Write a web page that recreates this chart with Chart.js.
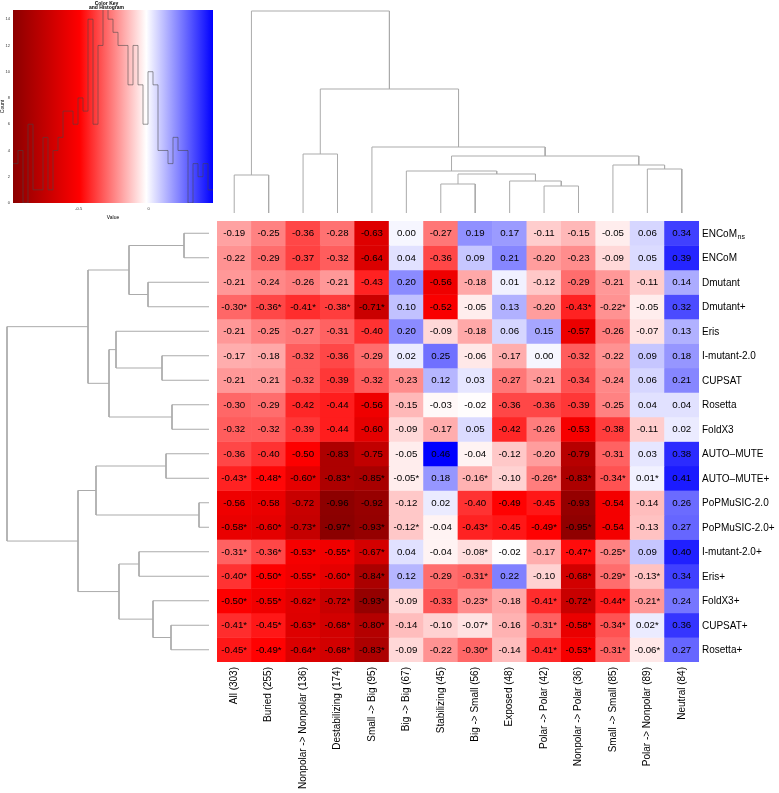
<!DOCTYPE html>
<html>
<head>
<meta charset="utf-8">
<script src="https://cdn.jsdelivr.net/npm/chart.js@4.4.1/dist/chart.umd.min.js"></script>
<style>
  html, body { margin: 0; padding: 0; background: #fff; }
  #wrap { position: relative; width: 779px; height: 793px; overflow: hidden; }
  canvas { position: absolute; }
</style>
</head>
<body>
<div id="wrap">
  <canvas id="keyChart" width="217" height="221" style="left:0;top:0"></canvas>
  <canvas id="colDendro" width="482" height="221" style="left:217px;top:0"></canvas>
  <canvas id="rowDendro" width="217" height="441" style="left:0;top:221px"></canvas>
  <canvas id="heatChart" width="569" height="578" style="left:210px;top:215px"></canvas>
</div>
<script>
const fontFamily = '"Liberation Sans", Arial, Helvetica, sans-serif';

// columns (in dendrogram order)
const colLabels = ['All (303)', 'Buried (255)', 'Nonpolar -> Nonpolar (136)', 'Destabilizing (174)',
  'Small -> Big (95)', 'Big -> Big (67)', 'Stabilizing (45)', 'Big -> Small (56)', 'Exposed (48)',
  'Polar -> Polar (42)', 'Nonpolar -> Polar (36)', 'Small -> Small (85)', 'Polar -> Nonpolar (89)', 'Neutral (84)'];

// rows (in dendrogram order), "_" marks a subscript
const rowLabels = ['ENCoM_ns', 'ENCoM', 'Dmutant', 'Dmutant+', 'Eris', 'I-mutant-2.0', 'CUPSAT', 'Rosetta',
  'FoldX3', 'AUTO\u2013MUTE', 'AUTO\u2013MUTE+', 'PoPMuSIC-2.0', 'PoPMuSIC-2.0+', 'I-mutant-2.0+', 'Eris+',
  'FoldX3+', 'CUPSAT+', 'Rosetta+'];

// correlation values, one array per row
const encomNs      = [-0.19, -0.25, -0.36, -0.28, -0.63, 0.00, -0.27, 0.19, 0.17, -0.11, -0.15, -0.05, 0.06, 0.34];
const encom        = [-0.22, -0.29, -0.37, -0.32, -0.64, 0.04, -0.36, 0.09, 0.21, -0.20, -0.23, -0.09, 0.05, 0.39];
const dmutant      = [-0.21, -0.24, -0.26, -0.21, -0.43, 0.20, -0.56, -0.18, 0.01, -0.12, -0.29, -0.21, -0.11, 0.14];
const dmutantPlus  = [-0.30, -0.36, -0.41, -0.38, -0.71, 0.10, -0.52, -0.05, 0.13, -0.20, -0.43, -0.22, -0.05, 0.32];
const eris         = [-0.21, -0.25, -0.27, -0.31, -0.40, 0.20, -0.09, -0.18, 0.06, 0.15, -0.57, -0.26, -0.07, 0.13];
const imutant      = [-0.17, -0.18, -0.32, -0.36, -0.29, 0.02, 0.25, -0.06, -0.17, 0.00, -0.32, -0.22, 0.09, 0.18];
const cupsat       = [-0.21, -0.21, -0.32, -0.39, -0.32, -0.23, 0.12, 0.03, -0.27, -0.21, -0.34, -0.24, 0.06, 0.21];
const rosetta      = [-0.30, -0.29, -0.42, -0.44, -0.56, -0.15, -0.03, -0.02, -0.36, -0.36, -0.39, -0.25, 0.04, 0.04];
const foldx3       = [-0.32, -0.32, -0.39, -0.44, -0.60, -0.09, -0.17, 0.05, -0.42, -0.26, -0.53, -0.38, -0.11, 0.02];
const automute     = [-0.36, -0.40, -0.50, -0.83, -0.75, -0.05, 0.46, -0.04, -0.12, -0.20, -0.79, -0.31, 0.03, 0.38];
const automutePlus = [-0.43, -0.48, -0.60, -0.83, -0.85, -0.05, 0.18, -0.16, -0.10, -0.26, -0.83, -0.34, 0.01, 0.41];
const popmusic     = [-0.56, -0.58, -0.72, -0.96, -0.92, -0.12, 0.02, -0.40, -0.49, -0.45, -0.93, -0.54, -0.14, 0.26];
const popmusicPlus = [-0.58, -0.60, -0.73, -0.97, -0.93, -0.12, -0.04, -0.43, -0.45, -0.49, -0.95, -0.54, -0.13, 0.27];
const imutantPlus  = [-0.31, -0.36, -0.53, -0.55, -0.67, 0.04, -0.04, -0.08, -0.02, -0.17, -0.47, -0.25, 0.09, 0.40];
const erisPlus     = [-0.40, -0.50, -0.55, -0.60, -0.84, 0.12, -0.29, -0.31, 0.22, -0.10, -0.68, -0.29, -0.13, 0.34];
const foldx3Plus   = [-0.50, -0.55, -0.62, -0.72, -0.93, -0.09, -0.33, -0.23, -0.18, -0.41, -0.72, -0.44, -0.21, 0.24];
const cupsatPlus   = [-0.41, -0.45, -0.63, -0.68, -0.80, -0.14, -0.10, -0.07, -0.16, -0.31, -0.58, -0.34, 0.02, 0.36];
const rosettaPlus  = [-0.45, -0.49, -0.64, -0.68, -0.83, -0.09, -0.22, -0.30, -0.14, -0.41, -0.53, -0.31, -0.06, 0.27];

// columns marked with "*" in each row
const dmutantPlusStars  = [0, 1, 2, 3, 4, 10, 11];
const automutePlusStars = [0, 1, 2, 3, 4, 5, 7, 9, 10, 11, 12];
const popmusicPlusStars = [0, 1, 2, 3, 4, 5, 7, 9, 10];
const imutantPlusStars  = [0, 1, 2, 3, 4, 7, 10, 11];
const erisPlusStars     = [0, 1, 2, 3, 4, 7, 10, 11, 12];
const foldx3PlusStars   = [0, 1, 2, 3, 4, 7, 9, 10, 11, 12];
const cupsatPlusStars   = [0, 1, 2, 3, 4, 7, 9, 10, 11, 12];
const rosettaPlusStars  = [0, 1, 2, 3, 4, 7, 9, 10, 11, 12];

const rowValues = [encomNs, encom, dmutant, dmutantPlus, eris, imutant, cupsat, rosetta, foldx3,
  automute, automutePlus, popmusic, popmusicPlus, imutantPlus, erisPlus, foldx3Plus, cupsatPlus, rosettaPlus];
const rowStars = [[], [], [], dmutantPlusStars, [], [], [], [], [], [], automutePlusStars, [],
  popmusicPlusStars, imutantPlusStars, erisPlusStars, foldx3PlusStars, cupsatPlusStars, rosettaPlusStars];

// column dendrogram (R-style merge: negative = leaf, positive = earlier merge)
const colMergeA = [-10, -7, -9, -1, 2, -6, -13, -12, 6, -3, -5, 10, 4];
const colMergeB = [-11, -8, 1, -2, 3, 5, -14, 7, 8, -4, 9, 11, 12];
const colMergeH = [27, 29, 32, 38, 39, 42, 44, 48, 57, 59, 66, 124, 202];

// row dendrogram
const rowMergeA = [-12, -1, -8, -17, -10, -6, -16, -3, -14, 2, 9, -5, 12, 5, 10, 14, 15];
const rowMergeB = [-13, -2, -9, -18, -11, -7, 4, -4, -15, 8, 7, 6, 3, 1, 13, 11, 16];
const rowMergeH = [10, 25, 37, 38, 43, 47, 56, 61, 70, 80, 90, 93, 100, 113, 121, 131, 202];

// colour key
const valueMin = -0.97;
const valueMax = 0.46;
const keyBinCount = 40;
const keyTicksX = [-0.5, 0];
const keyTicksY = [0, 2, 4, 6, 8, 10, 12, 14];
const rampColors = [[139, 0, 0], [255, 0, 0], [255, 255, 255], [0, 0, 255]];

function heatColor(v) {
  let t = (v - valueMin) / (valueMax - valueMin);
  t = Math.max(0, Math.min(1, t)) * (rampColors.length - 1);
  const i = Math.min(rampColors.length - 2, Math.floor(t));
  const s = t - i;
  const a = rampColors[i], b = rampColors[i + 1];
  const c = a.map((x, k) => Math.round(x + (b[k] - x) * s));
  return 'rgb(' + c.join(',') + ')';
}

function dendroPoints(mergeA, mergeB, heights, horizontal) {
  const pos = [];
  const pts = [];
  const nodePos = k => k < 0 ? (-k - 1) + 0.5 : pos[k - 1];
  const nodeH = k => k < 0 ? 0 : heights[k - 1];
  heights.forEach((h, m) => {
    const a = mergeA[m], b = mergeB[m];
    const pa = nodePos(a), pb = nodePos(b);
    pos.push((pa + pb) / 2);
    [[pa, nodeH(a)], [pa, h], [pb, h], [pb, nodeH(b)]].forEach(([p, hh]) => {
      pts.push(horizontal ? { x: hh, y: p } : { x: p, y: hh });
    });
    pts.push({ x: null, y: null });
  });
  return pts;
}

const dendroColor = '#ababab';
const noChrome = { legend: { display: false }, tooltip: { enabled: false } };

// ---- column dendrogram ----
new Chart(document.getElementById('colDendro'), {
  type: 'scatter',
  data: { datasets: [{ data: dendroPoints(colMergeA, colMergeB, colMergeH, false), showLine: true,
    borderColor: dendroColor, borderWidth: 1, pointRadius: 0, spanGaps: false }] },
  options: {
    responsive: false, animation: false, devicePixelRatio: 1,
    plugins: noChrome,
    scales: {
      x: { type: 'linear', display: false, min: 0, max: colLabels.length },
      y: { type: 'linear', display: false, min: -8, max: 213 }
    }
  }
});

// ---- row dendrogram ----
new Chart(document.getElementById('rowDendro'), {
  type: 'scatter',
  data: { datasets: [{ data: dendroPoints(rowMergeA, rowMergeB, rowMergeH, true), showLine: true,
    borderColor: dendroColor, borderWidth: 1, pointRadius: 0, spanGaps: false }] },
  options: {
    responsive: false, animation: false, devicePixelRatio: 1,
    plugins: noChrome,
    scales: {
      x: { type: 'linear', display: false, min: -8, max: 209, reverse: true },
      y: { type: 'linear', display: false, min: 0, max: rowLabels.length, reverse: true }
    }
  }
});

// ---- colour key with histogram ----
const binWidth = (valueMax - valueMin) / keyBinCount;
const keyCounts = new Array(keyBinCount).fill(0);
rowValues.flat().forEach(v => {
  let i = Math.ceil((v - valueMin) / binWidth - 1e-9) - 1;
  keyCounts[Math.max(0, Math.min(keyBinCount - 1, i))]++;
});
const keyPoints = [];
for (let i = 0; i <= keyBinCount; i++) {
  keyPoints.push({ x: valueMin + i * binWidth, y: keyCounts[Math.min(i, keyBinCount - 1)] });
}

const keyGradient = {
  id: 'keyGradient',
  beforeDatasetsDraw(chart) {
    const { ctx, chartArea: a } = chart;
    const g = ctx.createLinearGradient(a.left, 0, a.right, 0);
    rampColors.forEach((c, i) => g.addColorStop(i / (rampColors.length - 1), 'rgb(' + c.join(',') + ')'));
    ctx.save();
    ctx.fillStyle = g;
    ctx.fillRect(a.left, a.top, a.right - a.left, a.bottom - a.top);
    ctx.restore();
  }
};

new Chart(document.getElementById('keyChart'), {
  type: 'line',
  data: { datasets: [{ data: keyPoints, stepped: true, borderColor: 'rgba(70,70,70,0.55)', borderWidth: 1,
    pointRadius: 0, fill: false }] },
  options: {
    responsive: false, animation: false, devicePixelRatio: 1,
    layout: { padding: { left: 0, right: 4, top: 0, bottom: 0 } },
    plugins: {
      legend: { display: false }, tooltip: { enabled: false },
      title: { display: true, text: ['Color Key', 'and Histogram'], color: '#000',
        font: { family: fontFamily, size: 5, weight: 'bold', lineHeight: 0.9 }, padding: { top: 1, bottom: 0 } }
    },
    scales: {
      x: {
        type: 'linear', min: valueMin, max: valueMax,
        afterBuildTicks: s => { s.ticks = keyTicksX.map(v => ({ value: v })); },
        ticks: { font: { family: fontFamily, size: 4 }, color: '#333', padding: 1 },
        grid: { display: false, tickLength: 2 }, border: { display: false },
        title: { display: true, text: 'Value', color: '#000', font: { family: fontFamily, size: 5 }, padding: 0 },
        afterFit: s => { s.height = 18; }
      },
      y: {
        type: 'linear', min: 0, max: 14.7,
        afterBuildTicks: s => { s.ticks = keyTicksY.map(v => ({ value: v })); },
        ticks: { font: { family: fontFamily, size: 4 }, color: '#333', padding: 1 },
        grid: { display: false, tickLength: 2 }, border: { display: false },
        title: { display: true, text: 'Count', color: '#000', font: { family: fontFamily, size: 5 }, padding: 0 },
        afterFit: s => { s.width = 13; }
      }
    }
  },
  plugins: [keyGradient]
});

// ---- heatmap ----
const cellText = {
  id: 'cellText',
  afterDatasetsDraw(chart) {
    const { ctx, scales: { x, y } } = chart;
    ctx.save();
    ctx.fillStyle = '#000';
    ctx.font = '9.7px ' + fontFamily;
    ctx.textAlign = 'center';
    ctx.textBaseline = 'middle';
    rowValues.forEach((vals, r) => {
      vals.forEach((v, c) => {
        const txt = v.toFixed(2) + (rowStars[r].includes(c) ? '*' : '');
        ctx.fillText(txt, x.getPixelForValue(c), y.getPixelForValue(r + 0.5) + 0.5);
      });
    });
    ctx.restore();
  }
};

const rowLabelText = {
  id: 'rowLabelText',
  afterDraw(chart) {
    const { ctx, chartArea, scales: { y } } = chart;
    ctx.save();
    ctx.fillStyle = '#000';
    ctx.textAlign = 'left';
    ctx.textBaseline = 'middle';
    rowLabels.forEach((lab, r) => {
      const [main, sub] = lab.split('_');
      const px = chartArea.right + 3;
      const py = y.getPixelForValue(r + 0.5) + 0.5;
      ctx.font = '10px ' + fontFamily;
      ctx.fillText(main, px, py);
      if (sub) {
        const w = ctx.measureText(main).width;
        ctx.font = '7px ' + fontFamily;
        ctx.fillText(sub, px + w + 0.5, py + 3);
      }
    });
    ctx.restore();
  }
};

new Chart(document.getElementById('heatChart'), {
  type: 'bar',
  data: {
    labels: colLabels,
    datasets: rowLabels.map((name, r) => ({
      label: name,
      data: colLabels.map(() => 1),
      backgroundColor: rowValues[r].map(heatColor),
      borderWidth: 0,
      barPercentage: 1,
      categoryPercentage: 1
    }))
  },
  options: {
    responsive: false, animation: false, devicePixelRatio: 1,
    layout: { padding: { left: 7, top: 6, right: 80, bottom: 0 } },
    plugins: noChrome,
    scales: {
      x: {
        stacked: true,
        grid: { display: false, drawTicks: false }, border: { display: false },
        ticks: { autoSkip: false, minRotation: 90, maxRotation: 90, padding: 5, color: '#000',
          font: { family: fontFamily, size: 10 } },
        afterFit: s => { s.height = 131; }
      },
      y: { stacked: true, display: false, min: 0, max: rowLabels.length, reverse: true }
    }
  },
  plugins: [cellText, rowLabelText]
});
</script>
</body>
</html>
